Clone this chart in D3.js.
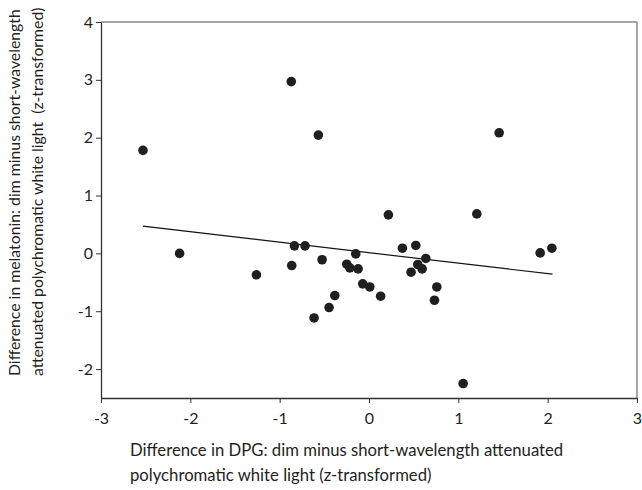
<!DOCTYPE html>
<html>
<head>
<meta charset="utf-8">
<script src="https://cdn.jsdelivr.net/npm/d3@7"></script>
<style>
    body { margin: 0; background: #fff; }
    svg text { font-family: Lato, "Open Sans", sans-serif; fill: #231f20; white-space: pre; }
</style>
</head>
<body>
<div id="chart"></div>
<script>
// Dati
const diffDPG = [-2.53, -2.12, -1.26, -0.87, -0.835, -0.865, -0.716, -0.567, -0.525, -0.615,
    -0.447, -0.383, -0.249, -0.215, -0.148, -0.122, -0.07, 0.009, 0.13, 0.217,
    0.374, 0.471, 0.524, 0.546, 0.595, 0.636, 0.733, 0.759, 1.054, 1.207,
    1.457, 1.916, 2.047];
const diffMelatonin = [1.78, 0.0, -0.37, 2.97, 0.13, -0.21, 0.13, 2.045, -0.11, -1.116,
    -0.936, -0.729, -0.187, -0.25, -0.009, -0.268, -0.527, -0.58, -0.74, 0.666,
    0.09, -0.325, 0.137, -0.192, -0.268, -0.088, -0.81, -0.58, -2.25, 0.683,
    2.085, 0.009, 0.09];
const trendX = [-2.53, 2.054];
const trendY = [0.47, -0.36];
const xTicks = [-3, -2, -1, 0, 1, 2, 3];
const yTicks = [-2, -1, 0, 1, 2, 3, 4];
const xTitle = ['Difference in DPG: dim minus short-wavelength attenuated',
    'polychromatic white light (z-transformed)'];
const yTitle = ['Difference in melatonin: dim minus short-wavelength',
    'attenuated polychromatic white light  (z-transformed)'];

const width = 642;
const height = 490;
const margin = { top: 22, right: 5, bottom: 92, left: 101 };

const chart = d3.select('#chart')
    .append('svg')
    .attr('width', width)
    .attr('height', height);

const x = d3.scaleLinear()
    .domain([-3, 3])
    .range([margin.left, width - margin.right]);

const y = d3.scaleLinear()
    .domain([-2.5, 4])
    .range([height - margin.bottom, margin.top]);

// Cornice grigia sopra e a destra
chart.append('line')
    .attr('x1', x(-3)).attr('x2', x(3))
    .attr('y1', y(4)).attr('y2', y(4))
    .attr('stroke', '#8a8a8a').attr('stroke-width', 1.5);
chart.append('line')
    .attr('x1', x(3)).attr('x2', x(3))
    .attr('y1', y(4)).attr('y2', y(-2.5))
    .attr('stroke', '#8a8a8a').attr('stroke-width', 1.5);

// Assi
const xAxis = chart.append('g')
    .attr('transform', `translate(0,${y(-2.5)})`)
    .call(d3.axisBottom(x).tickValues(xTicks).tickSize(5).tickSizeOuter(0));

const yAxis = chart.append('g')
    .attr('transform', `translate(${x(-3)},0)`)
    .call(d3.axisLeft(y).tickValues(yTicks).tickSize(5).tickSizeOuter(0));

[xAxis, yAxis].forEach(a => {
    a.select('.domain').attr('stroke', '#333').attr('stroke-width', 1.3);
    a.selectAll('.tick line').attr('stroke', '#333');
    a.selectAll('.tick text')
        .attr('font-size', 16)
        .attr('fill', '#231f20')
        .text(d => d < 0 ? '-' + Math.abs(d) : d);
});
xAxis.selectAll('.tick text').attr('dy', '1.1em');
yAxis.selectAll('.tick text').attr('x', -8);

// Linea di tendenza
chart.append('line')
    .attr('x1', x(trendX[0])).attr('y1', y(trendY[0]))
    .attr('x2', x(trendX[1])).attr('y2', y(trendY[1]))
    .attr('stroke', '#111').attr('stroke-width', 1.2);

// Punti
chart.append('g')
    .selectAll('circle')
    .data(diffDPG)
    .join('circle')
    .attr('cx', d => x(d))
    .attr('cy', (d, i) => y(diffMelatonin[i]))
    .attr('r', 4.8)
    .attr('fill', '#1f1f1f');

// Titoli
const xLabel = chart.append('text')
    .attr('font-size', 16.7);
xLabel.selectAll('tspan')
    .data(xTitle)
    .join('tspan')
    .attr('x', 130)
    .attr('y', (d, i) => 456 + i * 25)
    .text(d => d);

const yLabel = chart.append('text')
    .attr('font-size', 15.8)
    .attr('transform', 'translate(0,376) rotate(-90)');
yLabel.selectAll('tspan')
    .data(yTitle)
    .join('tspan')
    .attr('x', 0)
    .attr('y', (d, i) => 20 + i * 23)
    .text(d => d);
</script>
</body>
</html>
